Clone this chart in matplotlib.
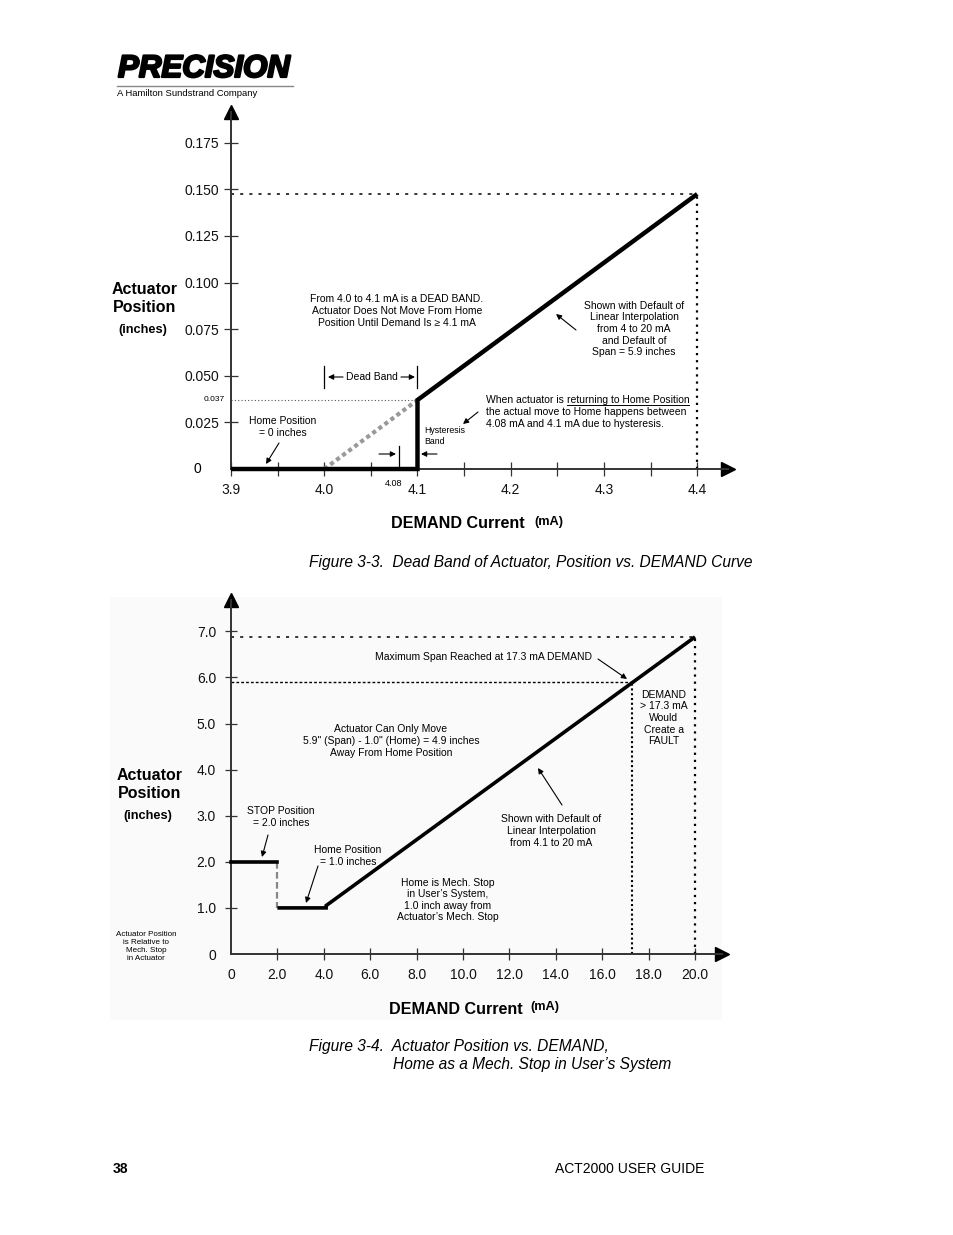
import matplotlib
matplotlib.use("Agg")
import matplotlib.pyplot as plt
import matplotlib.patheffects as pe
from matplotlib.patches import FancyArrowPatch, Rectangle
from matplotlib.lines import Line2D

# ---------------- data ----------------
# Figure 3-3 (dead band)
top_xticks = [3.9, 4.0, 4.1, 4.2, 4.3, 4.4]
top_xticklabels = ["3.9", "4.0", "4.1", "4.2", "4.3", "4.4"]
top_xminor = [3.95, 4.05, 4.15, 4.25, 4.35]
top_yticks = [0.025, 0.050, 0.075, 0.100, 0.125, 0.150, 0.175]
top_yticklabels = ["0.025", "0.050", "0.075", "0.100", "0.125", "0.150", "0.175"]
top_curve_x = [3.9, 4.1, 4.1, 4.4]
top_curve_y = [0.0, 0.0, 0.037, 0.1475]
top_gray_x = [4.0, 4.1]
top_gray_y = [0.0, 0.037]
top_deadband_y = 0.037
top_hyst_x = 4.08
top_max_y = 0.1475
top_max_x = 4.4

# Figure 3-4 (home as mech. stop)
bot_xticks = [0, 2, 4, 6, 8, 10, 12, 14, 16, 18, 20]
bot_xticklabels = ["0", "2.0", "4.0", "6.0", "8.0", "10.0", "12.0", "14.0", "16.0", "18.0", "20.0"]
bot_yticks = [0, 1, 2, 3, 4, 5, 6, 7]
bot_yticklabels = ["0", "1.0", "2.0", "3.0", "4.0", "5.0", "6.0", "7.0"]
bot_stop_x = [0.0, 2.0]
bot_stop_y = [2.0, 2.0]
bot_drop_x = [2.0, 2.0]
bot_drop_y = [2.0, 1.0]
bot_curve_x = [2.0, 4.1, 4.1, 20.0]
bot_curve_y = [1.0, 1.0, 1.05, 6.88]
bot_span_x = 17.3
bot_span_y = 5.9
bot_max_x = 20.0
bot_max_y = 6.88

# ---------------- figure ----------------
W, H = 954, 1235
FONT = ["Liberation Sans", "DejaVu Sans"]
plt.rcParams["font.family"] = FONT
fig = plt.figure(figsize=(W / 100, H / 100), dpi=100)
fig.patch.set_facecolor("white")


def P(x, y):
    return (x / W, 1 - y / H)


def T(x, y, s, size=7.5, ha="center", va="center", **kw):
    kw.setdefault("linespacing", 1.2)
    return fig.text(x / W, 1 - y / H, s, fontsize=size, ha=ha, va=va,
                    family=FONT, **kw)


def A(x1, y1, x2, y2, lw=0.8, ms=8):
    fig.add_artist(FancyArrowPatch(posA=P(x1, y1), posB=P(x2, y2),
                                   transform=fig.transFigure,
                                   arrowstyle="-|>", mutation_scale=ms,
                                   lw=lw, color="black", shrinkA=0, shrinkB=0))


def L(x1, y1, x2, y2, lw=0.9, color="black", **kw):
    fig.add_artist(Line2D([x1 / W, x2 / W], [1 - y1 / H, 1 - y2 / H],
                          transform=fig.transFigure, lw=lw, color=color, **kw))


# light background of the lower figure
fig.add_artist(Rectangle(P(110, 1020), 612 / W, 423 / H, transform=fig.transFigure,
                         facecolor="#fafafa", edgecolor="none", zorder=-5))

# ---------------- logo ----------------
T(118, 69, "PRECISION", size=22.5, ha="left", fontweight="heavy", style="italic",
  path_effects=[pe.withStroke(linewidth=1.6, foreground="black")])
L(117, 86, 293, 86, lw=1.0, color="#888888")
T(117, 94, "A Hamilton Sundstrand Company", size=6.8, ha="left")

SPINE = "#333333"


def style_axes(ax, tick_len, ypad, xpad):
    for s in ("top", "right"):
        ax.spines[s].set_visible(False)
    for s in ("left", "bottom"):
        ax.spines[s].set_color(SPINE)
        ax.spines[s].set_linewidth(1.4)
    ax.tick_params(which="both", direction="inout", length=tick_len, width=0.9,
                   color=SPINE, labelsize=10, labelcolor="#111111")
    ax.tick_params(axis="y", pad=ypad)
    ax.tick_params(axis="x", pad=xpad)
    ax.patch.set_alpha(0)
    ax.plot([1], [0], marker=">", color="black", markersize=10,
            transform=ax.transAxes, clip_on=False)
    ax.plot([0], [1], marker="^", color="black", markersize=10,
            transform=ax.transAxes, clip_on=False)


# ---------------- top chart ----------------
l, r, b, t = 231, 728, 469, 112
ax1 = fig.add_axes([l / W, 1 - b / H, (r - l) / W, (b - t) / H])
ax1.set_xlim(3.9, 4.433)
ax1.set_ylim(0, 0.1915)
style_axes(ax1, 10, 3.6, 5)
ax1.set_xticks(top_xticks)
ax1.set_xticklabels(top_xticklabels)
ax1.set_xticks(top_xminor, minor=True)
ax1.set_yticks(top_yticks)
ax1.set_yticklabels(top_yticklabels)

ax1.plot(top_curve_x, top_curve_y, color="black", lw=3.2, clip_on=False,
         solid_joinstyle="miter", solid_capstyle="butt", zorder=5)
ax1.plot(top_gray_x, top_gray_y, color="#999999", lw=3, ls=(0, (1, 0.8)), zorder=4)
ax1.plot([3.9, 4.1], [top_deadband_y] * 2, color="#555555", lw=0.8, ls=(0, (1, 2)))
ax1.plot([3.9, top_max_x], [top_max_y] * 2, color="black", lw=1.1, ls=(0, (2, 4)))
ax1.plot([top_max_x] * 2, [0, top_max_y], color="black", lw=1.6, ls=(0, (1, 2.2)))
ax1.plot([top_hyst_x] * 2, [0, 0.0125], color="black", lw=0.9)
ax1.plot([4.0, 4.0], [0.0435, 0.0555], color="black", lw=0.9)
ax1.plot([4.1, 4.1], [0.0435, 0.0555], color="black", lw=0.9)

T(197, 469, "0", size=10)
T(204, 400, "0.037", size=6, ha="left")
T(385, 483, "4.08", size=6.5, ha="left")

T(145, 289, "Actuator", size=11.5, fontweight="bold")
T(145, 308, "Position", size=11.5, fontweight="bold")
T(143, 330, "(inches)", size=9.2, fontweight="bold")
T(391, 524, "DEMAND Current", size=11.6, fontweight="bold", ha="left")
T(534, 522, "(mA)", size=9.2, fontweight="bold", ha="left")

T(397, 311, "From 4.0 to 4.1 mA is a DEAD BAND.\nActuator Does Not Move From Home\n"
            "Position Until Demand Is \u2265 4.1 mA", size=7.5)
T(372, 377, "Dead Band", size=7.5)
A(343, 377, 328, 377)
A(401, 377, 415, 377)
T(283, 427, "Home Position\n= 0 inches", size=7.5)
A(279, 443, 266, 464)
T(424, 436, "Hysteresis\nBand", size=6.3, ha="left")
A(379, 454, 396, 454)
A(437, 454, 421, 454)
A(478, 412, 463, 424)
T(634, 329, "Shown with Default of\nLinear Interpolation\nfrom 4 to 20 mA\n"
            "and Default of\nSpan = 5.9 inches", size=7.5)
A(576, 330, 556, 314)

t1 = T(486, 400, "When actuator is ", size=7.5, ha="left")
fig.canvas.draw()
rend = fig.canvas.get_renderer()
bb = t1.get_window_extent(rend)
x_u = bb.x1
t2 = fig.text(x_u / W, 1 - 400 / H, "returning to Home Position", fontsize=7.5,
              ha="left", va="center", family=FONT)
bb2 = t2.get_window_extent(rend)
L(bb2.x0, 405, bb2.x1, 405, lw=0.7)
T(486, 418, "the actual move to Home happens between\n"
            "4.08 mA and 4.1 mA due to hysteresis.", size=7.5, ha="left")

T(309, 562, "Figure 3-3.  Dead Band of Actuator, Position vs. DEMAND Curve",
  size=11.2, ha="left", style="italic")

# ---------------- bottom chart ----------------
l, r, b, t = 231, 722, 954, 600
ax2 = fig.add_axes([l / W, 1 - b / H, (r - l) / W, (b - t) / H])
ax2.set_xlim(0, 21.16)
ax2.set_ylim(0, 7.68)
style_axes(ax2, 8.5, 6.5, 6)
ax2.set_xticks(bot_xticks)
ax2.set_xticklabels(bot_xticklabels)
ax2.set_yticks(bot_yticks)
ax2.set_yticklabels(bot_yticklabels)
ax2.xaxis.get_major_ticks()[0].tick1line.set_visible(False)
ax2.xaxis.get_major_ticks()[0].tick2line.set_visible(False)
ax2.yaxis.get_major_ticks()[0].tick1line.set_visible(False)
ax2.yaxis.get_major_ticks()[0].tick2line.set_visible(False)

ax2.plot(bot_stop_x, bot_stop_y, color="black", lw=2.6, clip_on=False, zorder=5)
ax2.plot(bot_drop_x, bot_drop_y, color="#888888", lw=1.6, ls=(0, (3, 1.5)), zorder=4)
ax2.plot(bot_curve_x, bot_curve_y, color="black", lw=2.6, clip_on=False,
         solid_joinstyle="miter", solid_capstyle="butt", zorder=5)
ax2.plot([0, bot_span_x], [bot_span_y] * 2, color="black", lw=1.0, ls=(0, (2, 1.5)))
ax2.plot([bot_span_x] * 2, [0, bot_span_y], color="black", lw=1.5, ls=(0, (1, 1.3)))
ax2.plot([0, bot_max_x], [bot_max_y] * 2, color="black", lw=1.1, ls=(0, (2, 4)))
ax2.plot([bot_max_x] * 2, [0, bot_max_y], color="black", lw=1.6, ls=(0, (1, 2.2)))

T(150, 775, "Actuator", size=11.5, fontweight="bold")
T(150, 794, "Position", size=11.5, fontweight="bold")
T(148, 816, "(inches)", size=9.2, fontweight="bold")
T(389, 1009, "DEMAND Current", size=11.6, fontweight="bold", ha="left")
T(530, 1007, "(mA)", size=9.2, fontweight="bold", ha="left")

T(484, 657, "Maximum Span Reached at 17.3 mA DEMAND", size=7.5)
A(598, 659, 627, 679)
T(664, 718, "DEMAND\n> 17.3 mA\nWould\nCreate a\nFAULT", size=7.5)
T(391, 741, "Actuator Can Only Move\n5.9\" (Span) - 1.0\" (Home) = 4.9 inches\n"
            "Away From Home Position", size=7.5)
A(562, 805, 538, 768)
T(551, 831, "Shown with Default of\nLinear Interpolation\nfrom 4.1 to 20 mA", size=7.5)
T(281, 817, "STOP Position\n= 2.0 inches", size=7.5)
A(268, 835, 262, 857)
T(348, 856, "Home Position\n= 1.0 inches", size=7.5)
A(318, 866, 306, 903)
T(448, 900, "Home is Mech. Stop\nin User\u2019s System,\n1.0 inch away from\n"
            "Actuator\u2019s Mech. Stop", size=7.5)
T(146, 947, "Actuator Position\nis Relative to\nMech. Stop\nin Actuator", size=5.8)

T(309, 1047, "Figure 3-4.  Actuator Position vs. DEMAND,", size=11.2, ha="left", style="italic")
T(393, 1065, "Home as a Mech. Stop in User\u2019s System", size=11.2, ha="left", style="italic")

# ---------------- footer ----------------
T(113, 1169, "38", size=10, ha="left", fontweight="bold")
T(555, 1169, "ACT2000 USER GUIDE", size=10, ha="left")

fig.savefig("out.png", dpi=100)
